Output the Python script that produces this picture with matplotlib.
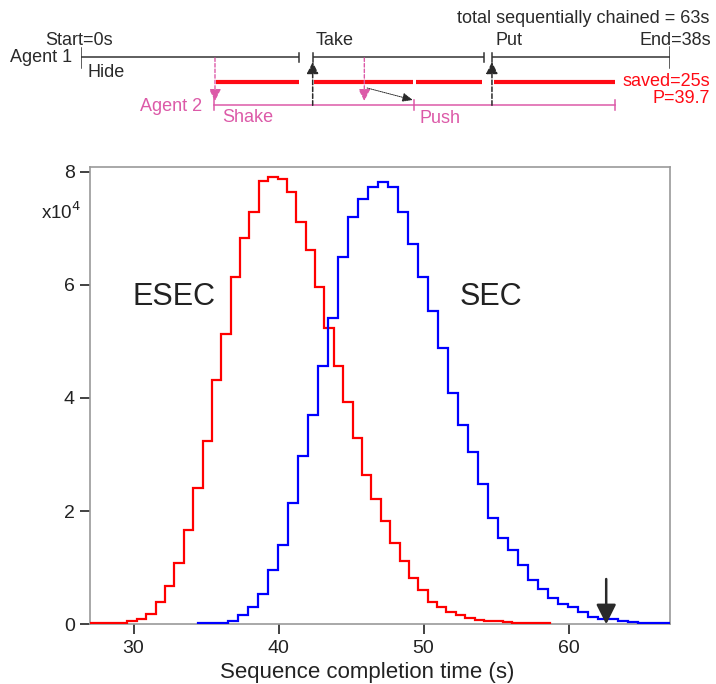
import numpy as np
import matplotlib
matplotlib.use("Agg")
import matplotlib.pyplot as plt

plt.rcParams['font.family'] = ['Liberation Sans', 'DejaVu Sans']

# ---------------- histogram data (counts in units of 1e4) ----------------
esec_bin_start = 26.35
esec_bin_width = 0.647
esec_counts = [0.015, 0.015, 0.02, 0.02, 0.03, 0.05, 0.09, 0.19, 0.39, 0.68,
               1.08, 1.67, 2.41, 3.23, 4.31, 5.13, 6.14, 6.82, 7.28, 7.83,
               7.91, 7.87, 7.64, 7.11, 6.62, 5.96, 5.24, 4.57, 3.92, 3.30,
               2.64, 2.21, 1.82, 1.44, 1.11, 0.82, 0.61, 0.39, 0.31, 0.21,
               0.16, 0.12, 0.08, 0.06, 0.05, 0.04, 0.03, 0.025, 0.02, 0.015]

sec_bin_start = 34.42
sec_bin_width = 0.691
sec_counts = [0.015, 0.02, 0.03, 0.06, 0.16, 0.31, 0.54, 0.96, 1.40, 2.14,
              2.98, 3.69, 4.57, 5.41, 6.49, 7.20, 7.51, 7.72, 7.81, 7.72,
              7.28, 6.72, 6.13, 5.53, 4.89, 4.09, 3.52, 3.05, 2.48, 1.87,
              1.53, 1.31, 1.05, 0.78, 0.62, 0.47, 0.36, 0.30, 0.22, 0.13,
              0.10, 0.09, 0.05, 0.035, 0.025, 0.02, 0.015, 0.015]

chained_time = 62.6
x_ticks = [30, 40, 50, 60]
y_ticks = [0, 2, 4, 6, 8]

# ---------------- timeline schematic data (seconds) ----------------
agent1_segments = [(0.0, 14.07), (14.94, 25.97), (26.5, 38.0)]
agent1_labels = ["Hide", "Take", "Put"]
agent2_segments = [(8.6, 21.5), (21.5, 34.45)]
agent2_labels = ["Shake", "Push"]
saved_segments = [(8.7, 14.05), (15.0, 21.4), (21.6, 25.85), (26.65, 34.45)]
handover_down = [8.64, 18.27]   # pink dashed arrows agent1 -> agent2
handover_up = [14.94, 26.5]     # black dashed arrows agent2 -> agent1

PINK = '#dc5aa8'
RED = '#ff0a14'
DARK = '#2a2a2a'

fig = plt.figure(figsize=(7.16, 6.84), dpi=100)

# ---------------- main histogram axes ----------------
ax = fig.add_axes([90/716, (684-624.3)/684, 580/716, (624.3-167)/684])
esec_edges = esec_bin_start + esec_bin_width*np.arange(len(esec_counts)+1)
sec_edges = sec_bin_start + sec_bin_width*np.arange(len(sec_counts)+1)
ax.stairs(esec_counts, esec_edges, color='#ff0000', lw=1.6, zorder=3)
ax.stairs(sec_counts, sec_edges, color='#0000ff', lw=1.6, zorder=3)

ax.set_xlim(27, 67)
ax.set_ylim(0, 8.08)
ax.set_xticks(x_ticks)
ax.set_yticks(y_ticks)
for s in ax.spines.values():
    s.set_color('#999999')
    s.set_linewidth(1.2)
ax.tick_params(direction='out', length=7, width=1.3, color='#333333',
               labelsize=14, labelcolor='#222222', pad=4)
ax.set_xlabel("Sequence completion time (s)", fontsize=16, color='#222222')
ax.xaxis.set_label_coords(0.478, -0.118)
ax.xaxis.label.set_va('baseline')

ax.text(0.145, 0.715, "ESEC", transform=ax.transAxes, fontsize=22,
        color='#222222', ha='center', va='center')
ax.text(0.692, 0.715, "SEC", transform=ax.transAxes, fontsize=22,
        color='#222222', ha='center', va='center')
fig.text(61/716, 1-212/684, r"x10$^4$", fontsize=13.5, color='#222222',
         ha='center', va='center')

ax.annotate("", xy=(chained_time, 0.0), xytext=(chained_time, 0.8),
            arrowprops=dict(arrowstyle='-|>,head_length=0.8,head_width=0.4',
                            mutation_scale=15, color=DARK, lw=1.8,
                            shrinkA=0, shrinkB=0), zorder=4)

# ---------------- timeline schematic ----------------
at = fig.add_axes([81/716, 1-135/684, (670.3-81)/716, 135/684])
at.set_xlim(0, 38)
at.set_ylim(135, 0)
at.axis('off')

y1, yr, y2 = 57.3, 81.7, 105.3
fs = 13

for (a, b) in agent1_segments:
    at.plot([a, b], [y1, y1], color='#333333', lw=1.1, solid_capstyle='butt')
# ticks on agent 1
at.plot([0, 0], [48, 68], color='#333333', lw=1.1)
at.plot([38, 38], [47, 68], color='#333333', lw=1.1)
for (a, b) in agent1_segments[:-1]:
    at.plot([b, b], [53, 62], color='#333333', lw=1.1)
for (a, b) in agent1_segments[1:]:
    at.plot([a, a], [53, 62], color='#333333', lw=1.1)

for (a, b) in saved_segments:
    at.plot([a, b], [yr, yr], color=RED, lw=3.0, solid_capstyle='butt')

for (a, b) in agent2_segments:
    at.plot([a, b], [y2, y2], color=PINK, lw=1.1)
at.plot([agent2_segments[0][0]]*2, [97, 110], color=PINK, lw=1.1)
at.plot([agent2_segments[1][0]]*2, [100, 110], color=PINK, lw=1.1)
at.plot([agent2_segments[1][1]]*2, [100, 110], color=PINK, lw=1.1)

for xd in handover_down:
    at.annotate("", xy=(xd, 101), xytext=(xd, 58),
                arrowprops=dict(arrowstyle='-|>,head_length=0.7,head_width=0.35',
                                mutation_scale=10, color=PINK, lw=1.0,
                                linestyle=(0, (2.5, 1.5)), shrinkA=0, shrinkB=0))
for xu in handover_up:
    at.annotate("", xy=(xu, 62), xytext=(xu, y2),
                arrowprops=dict(arrowstyle='-|>,head_length=0.7,head_width=0.35',
                                mutation_scale=10, color=DARK, lw=1.1,
                                linestyle=(0, (3, 1.5)), shrinkA=0, shrinkB=0))
at.annotate("", xy=(21.4, 100), xytext=(18.45, 88),
            arrowprops=dict(arrowstyle='-|>,head_length=0.7,head_width=0.3',
                            mutation_scale=9, color=DARK, lw=0.7,
                            linestyle=(0, (1, 1)), shrinkA=0, shrinkB=0))

# texts
at.text(-0.1, 40.7, "Start=0s", fontsize=fs, color=DARK, ha='center', va='center', clip_on=False)
at.text(38.3, 40.7, "End=38s", fontsize=fs, color=DARK, ha='center', va='center', clip_on=False)
at.text(agent1_segments[1][0] + 0.2, 40.7, agent1_labels[1], fontsize=fs, color=DARK, ha='left', va='center')
at.text(agent1_segments[2][0] + 0.25, 40.7, agent1_labels[2], fontsize=fs, color=DARK, ha='left', va='center')
at.text(0.45, 72.7, agent1_labels[0], fontsize=fs, color=DARK, ha='left', va='center')
at.text(-0.58, 57.0, "Agent 1", fontsize=fs, color=DARK, ha='right', va='center', clip_on=False)
at.text(7.8, 106.7, "Agent 2", fontsize=fs, color=PINK, ha='right', va='center')
at.text(agent2_segments[0][0] + 0.5, 117.5, agent2_labels[0], fontsize=fs, color=PINK, ha='left', va='center')
at.text(agent2_segments[1][0] + 0.3, 118.3, agent2_labels[1], fontsize=fs, color=PINK, ha='left', va='center')
at.text(40.55, 18.3, "total sequentially chained = 63s", fontsize=fs, color=DARK,
        ha='right', va='center', clip_on=False)
at.text(40.55, 81.7, "saved=25s", fontsize=fs, color=RED, ha='right', va='center', clip_on=False)
at.text(40.55, 98.3, "P=39.7", fontsize=fs, color=RED, ha='right', va='center', clip_on=False)

fig.savefig("out.png", dpi=100)
